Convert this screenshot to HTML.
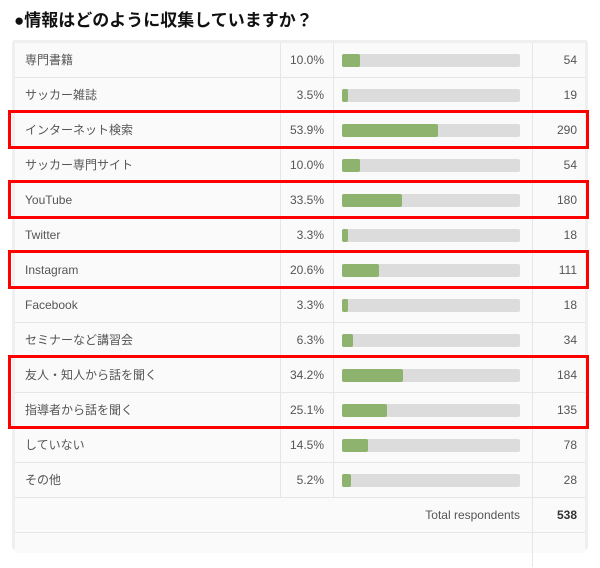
<!DOCTYPE html>
<html><head><meta charset="utf-8"><style>
body{margin:0;width:600px;height:545px;background:#fff;overflow:hidden;position:relative;font-family:"Liberation Sans","Noto Sans CJK JP",sans-serif;}
#title{position:absolute;left:14px;top:6px;font-size:17px;font-weight:bold;color:#111;}
#frame{position:absolute;left:12px;top:40px;width:576px;height:510px;background:#efefef;border-radius:3px;}
#tbl{position:absolute;left:15px;top:43px;width:570px;height:510px;background:#fafafa;}
.row{position:absolute;left:0;width:570px;height:35px;border-bottom:1px solid #e6e6e6;box-sizing:border-box;font-size:12px;color:#555;}
.cell{position:absolute;top:0;height:34px;line-height:34px;}
.lab{left:10px}
.pct{left:265px;width:43px;text-align:right;border-left:1px solid #e6e6e6;}
.vl{position:absolute;top:0;height:34px;border-left:1px solid #e6e6e6}
.track{position:absolute;left:327px;top:11px;width:178px;height:13px;background:#dcdcdc;border-radius:2px}
.fill{position:absolute;left:0;top:0;height:13px;background:#8db36e;border-radius:2px}
.cnt{left:517px;width:45px;text-align:right}
.red{position:absolute;border:3px solid #f00;box-sizing:border-box;}
</style></head><body>
<div id="title">●情報はどのように収集していますか？</div>
<div id="frame"></div>
<div id="tbl"></div>
<script>
const categories=["専門書籍","サッカー雑誌","インターネット検索","サッカー専門サイト","YouTube","Twitter","Instagram","Facebook","セミナーなど講習会","友人・知人から話を聞く","指導者から話を聞く","していない","その他"];
const percents=[10.0,3.5,53.9,10.0,33.5,3.3,20.6,3.3,6.3,34.2,25.1,14.5,5.2];
const counts=[54,19,290,54,180,18,111,18,34,184,135,78,28];
const total=538;
const highlighted=[[2,2],[4,4],[6,6],[9,10]];
const tbl=document.getElementById('tbl');
const rowH=35, trackW=178;
const y=i=>i*rowH;
const w=p=>p/100*trackW;
categories.forEach((c,i)=>{
  const r=document.createElement('div');r.className='row';r.style.top=y(i)+'px';
  
  
  r.innerHTML='<div class="cell lab">'+c+'</div>'+
  '<div class="cell pct">'+percents[i].toFixed(1)+'%</div>'+
  '<div class="vl" style="left:318px"></div><div class="vl" style="left:517px"></div>'+
  '<div class="track"><div class="fill" style="width:'+w(percents[i])+'px"></div></div>'+
  '<div class="cell cnt">'+counts[i]+'</div>';
  tbl.appendChild(r);
});
const t=document.createElement('div');t.className='row';t.style.top=y(categories.length)+'px';


t.innerHTML='<div class="cell" style="left:300px;width:205px;text-align:right">Total respondents</div><div class="vl" style="left:517px"></div><div class="cell cnt" style="font-weight:bold;color:#333">'+total+'</div>';
tbl.appendChild(t);
const t2=document.createElement('div');t2.className='row';t2.style.top=y(categories.length+1)+'px';t2.style.borderBottom='none';


t2.innerHTML='<div class="vl" style="left:517px"></div>';
tbl.appendChild(t2);
highlighted.forEach(h=>{
  const b=document.createElement('div');b.className='red';
  
  
  b.style.left='8px';b.style.width='581px';
  b.style.top=(43+y(h[0])-3)+'px';b.style.height=((h[1]-h[0]+1)*rowH+4)+'px';
  document.body.appendChild(b);
});
</script>
</body></html>
